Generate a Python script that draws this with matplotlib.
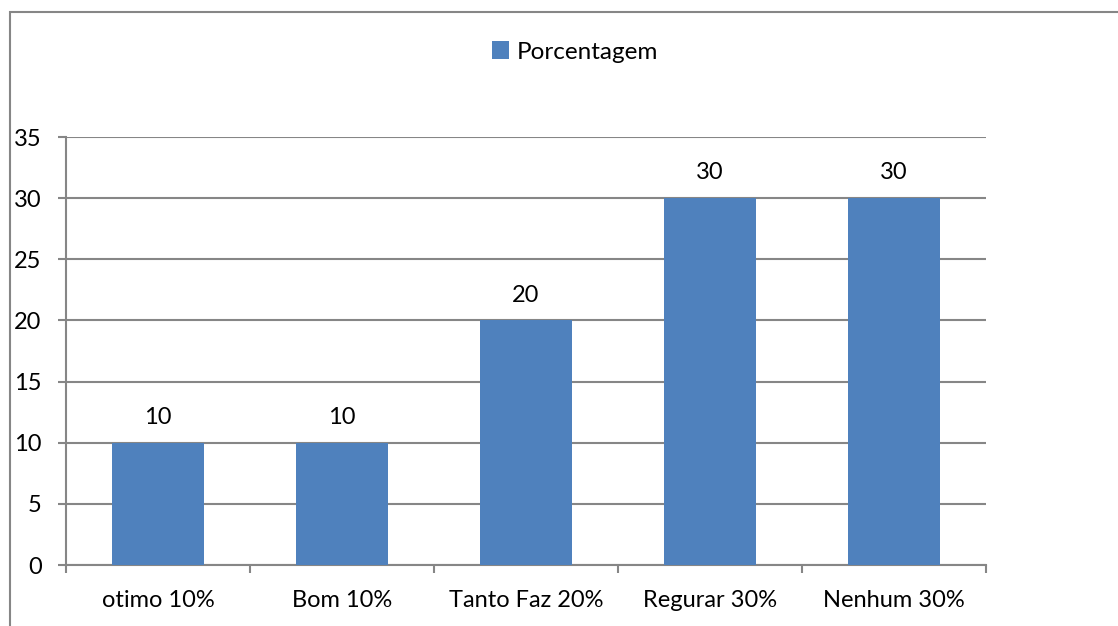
import matplotlib
matplotlib.use('Agg')
from matplotlib import pyplot as plt
from matplotlib.patches import Rectangle

categories = ['otimo 10%', 'Bom 10%', 'Tanto Faz 20%', 'Regurar 30%', 'Nenhum 30%']
values = [10, 10, 20, 30, 30]
series_name = 'Porcentagem'

BAR_COLOR = '#4F81BD'
GRID_COLOR = '#868686'
FS = 17

plt.rcParams['font.family'] = ['Lato', 'DejaVu Sans']

fig = plt.figure(figsize=(11.18, 6.26), dpi=100)

# outer chart border (cut off on the right and bottom)
fig.patches.append(Rectangle((10 / 1118, -0.05), 1.2, 1 - 12 / 626 + 0.05,
                             transform=fig.transFigure, fill=False,
                             edgecolor=GRID_COLOR, linewidth=1.5))

ax = fig.add_axes([66 / 1118, 1 - 565 / 626, 920 / 1118, 428 / 626])

x = list(range(len(categories)))
bars = ax.bar(x, values, width=0.5, color=BAR_COLOR, zorder=3, label=series_name)

for b, v in zip(bars, values):
    ax.text(b.get_x() + b.get_width() / 2, v + 1.2, str(v),
            ha='center', va='bottom', fontsize=FS, color='black')

ax.set_xlim(-0.5, len(categories) - 0.5)
ax.set_ylim(0, 35)
ax.set_yticks(range(0, 36, 5))
ax.yaxis.grid(True, color=GRID_COLOR, linewidth=1.5, zorder=0)
ax.set_axisbelow(True)

# category labels centered, tick marks on the boundaries
ax.set_xticks(x)
ax.set_xticklabels(categories)
ax.set_xticks([i - 0.5 for i in range(len(categories) + 1)], minor=True)
ax.tick_params(axis='x', which='major', length=0, pad=18, labelsize=FS)
ax.tick_params(axis='x', which='minor', length=6, width=1.5, color=GRID_COLOR)
ax.tick_params(axis='y', length=6, width=1.5, color=GRID_COLOR, pad=11.5, labelsize=FS)

for side in ['top', 'right']:
    ax.spines[side].set_visible(False)
for side in ['left', 'bottom']:
    ax.spines[side].set_color(GRID_COLOR)
    ax.spines[side].set_linewidth(1.5)

fig.legend(handles=[bars], labels=[series_name], loc='center',
           bbox_to_anchor=(575 / 1118, 1 - 52 / 626), frameon=False,
           fontsize=FS + 0.5, handlelength=0.7, handleheight=0.7, handletextpad=0.3)

plt.savefig('out.png', dpi=100)
